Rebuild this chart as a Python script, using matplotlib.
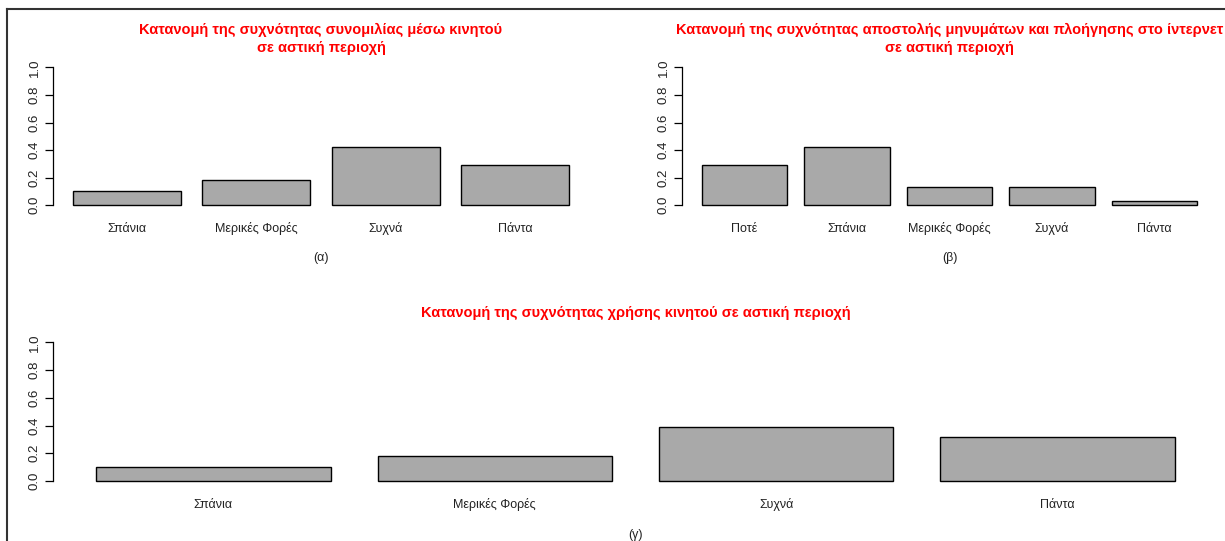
import matplotlib
matplotlib.use("Agg")
import matplotlib.pyplot as plt
from matplotlib.lines import Line2D

plt.rcParams['font.family'] = ['Liberation Sans', 'DejaVu Sans']

# Relative frequencies
labels_a = ["Σπάνια", "Μερικές Φορές", "Συχνά", "Πάντα"]
values_a = [0.10, 0.18, 0.42, 0.29]

labels_b = ["Ποτέ", "Σπάνια", "Μερικές Φορές", "Συχνά", "Πάντα"]
values_b = [0.29, 0.42, 0.13, 0.13, 0.03]

labels_c = ["Σπάνια", "Μερικές Φορές", "Συχνά", "Πάντα"]
values_c = [0.10, 0.18, 0.39, 0.32]

title_a = "Κατανομή της συχνότητας συνομιλίας μέσω κινητού\nσε αστική περιοχή"
title_b = "Κατανομή της συχνότητας αποστολής μηνυμάτων και πλοήγησης στο ίντερνετ\nσε αστική περιοχή"
title_c = "Κατανομή της συχνότητας χρήσης κινητού σε αστική περιοχή"
sub_a, sub_b, sub_c = "(α)", "(β)", "(γ)"
yticks = [0.0, 0.2, 0.4, 0.6, 0.8, 1.0]

W, H = 1225, 541
fig = plt.figure(figsize=(W / 100, H / 100), dpi=100)
fig.patch.set_facecolor("white")

RED = "#FF0000"
BAR = "#A9A9A9"


def px_axes(x0, x1, ytop, ybot):
    return fig.add_axes([x0 / W, 1 - ybot / H, (x1 - x0) / W, (ybot - ytop) / H])


def barplot(ax, labels, values, title, sub, title_y, sub_y):
    n = len(values)
    centers = [0.7 + 1.2 * i for i in range(n)]
    ax.bar(centers, values, width=1.0, color=BAR, edgecolor="black", linewidth=1.0)
    span = n * 1.2 - 0.2
    ax.set_xlim(0.2 - 0.04 * span, n * 1.2 + 0.04 * span)
    ax.set_ylim(-0.04, 1.04)
    for s in ("top", "right", "bottom"):
        ax.spines[s].set_visible(False)
    ax.spines["left"].set_bounds(0, 1)
    ax.spines["left"].set_linewidth(0.9)
    ax.set_yticks(yticks)
    ax.set_yticklabels([f"{t:.1f}" for t in yticks], rotation=90, va="center",
                       fontsize=9.5, color="#222222")
    ax.tick_params(axis="y", length=5.8, width=0.9, pad=3)
    ax.set_xticks(centers)
    ax.set_xticklabels(labels, fontsize=9, color="#222222", va="baseline")
    ax.tick_params(axis="x", length=0, pad=15.5)
    bb = ax.get_position()
    cx = (bb.x0 + bb.x1) / 2
    fig.text(cx, 1 - title_y / H, title, ha="center", va="center", color=RED,
             fontsize=10.5, fontweight="bold", linespacing=1.4)
    fig.text(cx, 1 - sub_y / H, sub, ha="center", va="center", fontsize=9, color="#222222")


ax_a = px_axes(53, 589, 61.8, 210.8)
barplot(ax_a, labels_a, values_a, title_a, sub_a, 39, 258)

ax_b = px_axes(682, 1217, 61.8, 210.8)
barplot(ax_b, labels_b, values_b, title_b, sub_b, 39, 258)

ax_c = px_axes(53, 1218, 336.8, 486.5)
barplot(ax_c, labels_c, values_c, title_c, sub_c, 313, 535)

# Frame along the top and left edges
fig.add_artist(Line2D([7 / W, 1.0], [1 - 9 / H, 1 - 9 / H], color="#333333", linewidth=1.5))
fig.add_artist(Line2D([7 / W, 7 / W], [0.0, 1 - 9 / H], color="#333333", linewidth=1.5))

fig.savefig("out.png", dpi=100, facecolor="white")
